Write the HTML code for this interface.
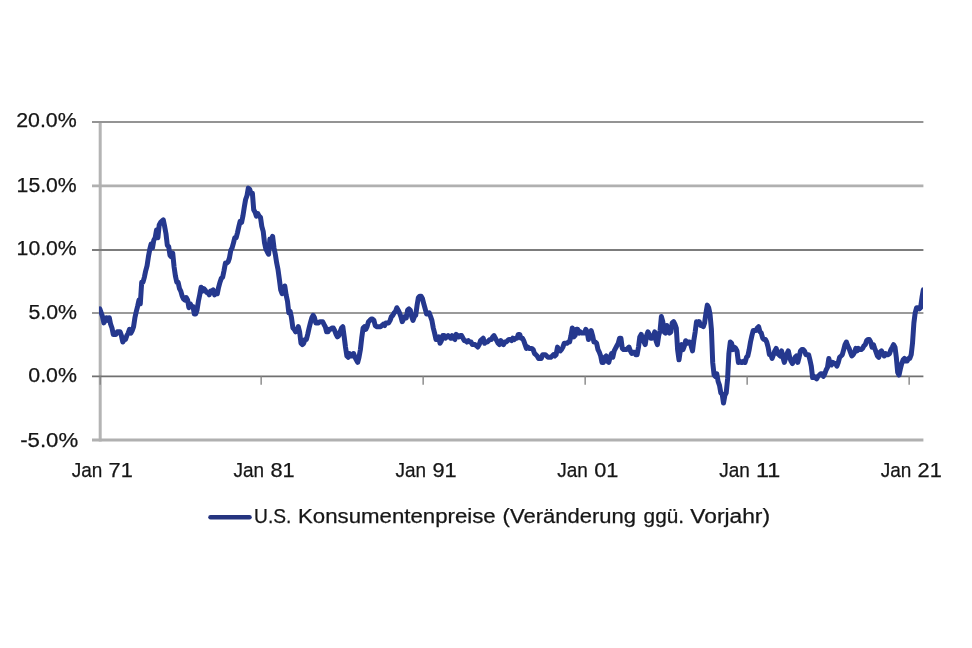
<!DOCTYPE html>
<html lang="de"><head><meta charset="utf-8"><title>U.S. Konsumentenpreise</title>
<style>
html,body{margin:0;padding:0;background:#fff;}
body{width:972px;height:648px;overflow:hidden;font-family:"Liberation Sans",sans-serif;}
svg{display:block;font-family:"Liberation Sans",sans-serif;filter:blur(0.45px);}
</style></head><body>
<svg width="972" height="648" viewBox="0 0 972 648">
<rect width="972" height="648" fill="#fff"/>
<line x1="100.2" x2="100.2" y1="121.2" y2="441.4" stroke="#b4b4b4" stroke-width="3"/>
<line x1="92" x2="923.4" y1="122.0" y2="122.0" stroke="#949494" stroke-width="2.0"/>
<line x1="92" x2="923.4" y1="185.9" y2="185.9" stroke="#b0b0b0" stroke-width="2.6"/>
<line x1="92" x2="923.4" y1="250.0" y2="250.0" stroke="#7c7c7c" stroke-width="1.8"/>
<line x1="92" x2="923.4" y1="312.9" y2="312.9" stroke="#9a9a9a" stroke-width="2.0"/>
<line x1="92" x2="923.4" y1="376.3" y2="376.3" stroke="#707070" stroke-width="1.8"/>
<line x1="92" x2="923.4" y1="440.0" y2="440.0" stroke="#b0b0b0" stroke-width="3.0"/>
<line x1="100.20" x2="100.20" y1="376.3" y2="384.7" stroke="#868686" stroke-width="1.4"/>
<line x1="261.15" x2="261.15" y1="376.3" y2="384.7" stroke="#868686" stroke-width="1.4"/>
<line x1="423.15" x2="423.15" y1="376.3" y2="384.7" stroke="#868686" stroke-width="1.4"/>
<line x1="585.15" x2="585.15" y1="376.3" y2="384.7" stroke="#868686" stroke-width="1.4"/>
<line x1="747.15" x2="747.15" y1="376.3" y2="384.7" stroke="#868686" stroke-width="1.4"/>
<line x1="909.15" x2="909.15" y1="376.3" y2="384.7" stroke="#868686" stroke-width="1.4"/>
<clipPath id="pc"><rect x="99" y="100" width="824" height="360"/></clipPath>
<polyline clip-path="url(#pc)" points="99.8,308.9 101.2,312.8 102.5,316.6 103.9,322.9 105.2,320.4 106.6,317.8 107.9,320.4 109.3,317.8 110.6,324.2 112.0,328.0 113.3,334.4 114.7,334.4 116.0,334.4 117.4,331.8 118.7,331.8 120.1,331.8 121.4,335.6 122.8,342.0 124.1,339.5 125.5,339.5 126.8,335.6 128.2,333.1 129.5,329.3 130.9,333.1 132.2,330.6 133.6,326.7 134.9,317.8 136.3,311.5 137.6,306.4 139.0,300.0 140.3,303.8 141.7,282.2 143.0,282.2 144.4,277.1 145.7,270.8 147.1,265.7 148.4,256.8 149.8,249.2 151.1,244.1 152.5,247.9 153.8,240.2 155.2,237.7 156.5,230.1 157.9,237.7 159.2,225.0 160.6,222.4 161.9,221.2 163.3,219.9 164.6,226.3 166.0,233.9 167.3,245.3 168.7,246.6 170.0,255.5 171.4,256.8 172.7,253.0 174.1,267.0 175.4,275.9 176.8,282.2 178.1,282.2 179.5,288.6 180.8,291.1 182.2,296.2 183.5,298.8 184.9,300.0 186.2,297.5 187.6,300.0 188.9,307.7 190.3,303.8 191.6,306.4 193.0,306.4 194.3,314.0 195.7,314.0 197.0,310.2 198.4,301.3 199.7,294.9 201.1,287.3 202.4,291.1 203.8,288.6 205.1,289.9 206.5,292.4 207.8,292.4 209.2,294.9 210.5,291.1 211.9,291.1 213.2,289.9 214.6,294.9 215.9,292.4 217.3,293.7 218.6,287.3 220.0,282.2 221.3,278.4 222.7,277.1 224.0,270.8 225.4,263.1 226.7,263.1 228.1,261.9 229.4,258.1 230.8,250.4 232.1,247.9 233.5,242.8 234.8,237.7 236.2,237.7 237.5,232.6 238.9,226.3 240.2,221.2 241.6,222.4 242.9,216.1 244.3,207.2 245.6,199.5 247.0,195.7 248.3,188.1 249.7,189.4 251.0,193.2 252.4,193.2 253.7,209.7 255.1,212.3 256.4,216.1 257.8,213.5 259.1,216.1 260.5,217.4 261.8,226.3 263.2,231.3 264.5,242.8 265.9,249.2 267.2,251.7 268.6,254.2 269.9,239.0 271.3,239.0 272.6,236.4 274.0,247.9 275.3,254.2 276.7,263.1 278.0,269.5 279.4,279.7 280.7,289.9 282.1,293.7 283.4,291.1 284.8,286.0 286.1,294.9 287.5,301.3 288.8,312.8 290.2,311.5 291.5,317.8 292.9,328.0 294.2,329.3 295.6,331.8 296.9,330.6 298.3,326.7 299.6,331.8 301.0,343.3 302.3,344.6 303.7,343.3 305.0,339.5 306.4,339.5 307.7,334.4 309.1,328.0 310.4,322.9 311.8,317.8 313.1,315.3 314.5,317.8 315.8,322.9 317.2,322.9 318.5,322.9 319.9,321.7 321.2,321.7 322.6,321.7 323.9,324.2 325.3,326.7 326.6,331.8 328.0,331.8 329.3,329.3 330.7,329.3 332.0,328.0 333.4,328.0 334.7,330.6 336.1,334.4 337.4,336.9 338.8,335.6 340.1,331.8 341.5,328.0 342.8,326.7 344.2,336.9 345.5,347.1 346.9,356.0 348.2,357.3 349.6,353.5 350.9,356.0 352.3,356.0 353.6,353.5 355.0,357.3 356.3,359.8 357.7,362.4 359.0,357.3 360.4,349.6 361.7,338.2 363.1,328.0 364.4,326.7 365.8,329.3 367.1,326.7 368.5,321.7 369.8,320.4 371.2,319.1 372.5,319.1 373.9,320.4 375.2,325.5 376.6,326.7 377.9,326.7 379.3,326.7 380.6,326.7 382.0,325.5 383.3,324.2 384.7,325.5 386.0,322.9 387.4,322.9 388.7,322.9 390.1,320.4 391.4,316.6 392.8,315.3 394.1,312.8 395.5,311.5 396.8,307.7 398.2,310.2 399.5,312.8 400.9,316.6 402.2,321.7 403.6,319.1 404.9,316.6 406.3,317.8 407.6,310.2 409.0,308.9 410.3,310.2 411.7,316.6 413.0,320.4 414.4,316.6 415.7,315.3 417.1,305.1 418.4,297.5 419.8,296.2 421.1,296.2 422.5,298.8 423.8,303.8 425.2,308.9 426.5,314.0 427.9,314.0 429.2,312.8 430.6,316.6 431.9,320.4 433.3,328.0 434.6,333.1 436.0,339.5 437.3,338.2 438.7,336.9 440.0,343.3 441.4,340.7 442.7,335.6 444.1,335.6 445.4,338.2 446.8,336.9 448.1,335.6 449.5,336.9 450.8,338.2 452.2,335.6 453.5,338.2 454.9,339.5 456.2,334.4 457.6,335.6 458.9,336.9 460.3,335.6 461.6,335.6 463.0,338.2 464.3,340.7 465.7,340.7 467.0,342.0 468.4,340.7 469.7,342.0 471.1,342.0 472.4,344.6 473.8,344.6 475.1,344.6 476.5,345.8 477.8,347.1 479.2,344.6 480.5,340.7 481.9,339.5 483.2,338.2 484.6,343.3 485.9,342.0 487.3,342.0 488.6,340.7 490.0,339.5 491.3,339.5 492.7,336.9 494.0,335.6 495.4,338.2 496.7,340.7 498.1,343.3 499.4,344.6 500.8,340.7 502.1,343.3 503.5,344.6 504.8,342.0 506.2,342.0 507.5,340.7 508.9,339.5 510.2,339.5 511.6,340.7 512.9,338.2 514.3,339.5 515.6,338.2 517.0,338.2 518.3,334.4 519.7,334.4 521.0,338.2 522.4,338.2 523.7,340.7 525.1,344.6 526.4,348.4 527.8,347.1 529.1,348.4 530.5,348.4 531.8,348.4 533.2,349.6 534.5,353.5 535.9,354.7 537.2,356.0 538.6,358.5 539.9,358.5 541.3,358.5 542.6,354.7 544.0,354.7 545.3,354.7 546.7,356.0 548.0,357.3 549.4,357.3 550.7,357.3 552.1,356.0 553.4,354.7 554.8,356.0 556.1,354.7 557.5,347.1 558.8,349.6 560.2,350.9 561.5,349.6 562.9,347.1 564.2,343.3 565.6,343.3 566.9,343.3 568.3,342.0 569.6,342.0 571.0,335.6 572.3,328.0 573.7,336.9 575.0,335.6 576.4,329.3 577.7,329.3 579.1,333.1 580.4,331.8 581.8,333.1 583.1,333.1 584.5,333.1 585.8,329.3 587.2,331.8 588.5,339.5 589.9,334.4 591.2,330.6 592.6,335.6 593.9,342.0 595.3,342.0 596.6,343.3 598.0,349.6 599.3,352.2 600.7,356.0 602.0,362.4 603.4,362.4 604.7,357.3 606.1,356.0 607.4,361.1 608.8,362.4 610.1,357.3 611.5,353.5 612.8,357.3 614.2,350.9 615.5,348.4 616.9,345.8 618.2,343.3 619.6,338.2 620.9,338.2 622.3,348.4 623.6,349.6 625.0,349.6 626.3,349.6 627.7,348.4 629.0,347.1 630.4,350.9 631.7,353.5 633.1,352.2 634.4,352.2 635.8,354.7 637.1,354.7 638.5,347.1 639.8,336.9 641.2,334.4 642.5,338.2 643.9,342.0 645.2,344.6 646.6,335.6 647.9,331.8 649.3,334.4 650.6,338.2 652.0,338.2 653.3,336.9 654.7,331.8 656.0,340.7 657.4,344.6 658.7,335.6 660.1,330.6 661.4,316.6 662.8,321.7 664.1,331.8 665.5,333.1 666.8,325.5 668.2,330.6 669.5,333.1 670.9,331.8 672.2,322.9 673.6,321.7 674.9,324.2 676.3,328.0 677.6,349.6 679.0,359.8 680.3,350.9 681.7,344.6 683.0,349.6 684.4,345.8 685.7,340.7 687.1,343.3 688.4,342.0 689.8,342.0 691.1,345.8 692.5,350.9 693.8,340.7 695.2,331.8 696.5,321.7 697.9,324.2 699.2,321.7 700.6,325.5 701.9,325.5 703.3,326.7 704.6,322.9 706.0,312.8 707.3,305.1 708.7,307.7 710.0,314.0 711.4,329.3 712.7,362.4 714.1,375.1 715.4,376.4 716.8,373.8 718.1,381.4 719.5,385.3 720.8,392.9 722.2,394.2 723.5,403.1 724.9,395.4 726.2,392.9 727.6,378.9 728.9,353.5 730.3,342.0 731.6,343.3 733.0,349.6 734.3,347.1 735.7,348.4 737.0,350.9 738.4,362.4 739.7,361.1 741.1,362.4 742.4,362.4 743.8,361.1 745.1,362.4 746.5,357.3 747.8,356.0 749.2,349.6 750.5,342.0 751.9,335.6 753.2,330.6 754.6,330.6 755.9,330.6 757.3,328.0 758.6,326.7 760.0,331.8 761.3,333.1 762.7,338.2 764.0,339.5 765.4,339.5 766.7,342.0 768.1,347.1 769.4,354.7 770.8,354.7 772.1,358.5 773.5,354.7 774.8,350.9 776.2,348.4 777.5,353.5 778.9,354.7 780.2,356.0 781.6,350.9 782.9,357.3 784.3,362.4 785.6,358.5 787.0,353.5 788.3,350.9 789.7,357.3 791.0,361.1 792.4,363.6 793.7,361.1 795.1,357.3 796.4,356.0 797.8,362.4 799.1,357.3 800.5,350.9 801.8,349.6 803.2,349.6 804.5,350.9 805.9,354.7 807.2,354.7 808.6,354.7 809.9,359.8 811.3,366.2 812.6,377.6 814.0,376.4 815.3,377.6 816.7,378.9 818.0,376.4 819.4,375.1 820.7,373.8 822.1,373.8 823.4,376.4 824.8,373.8 826.1,370.0 827.5,367.4 828.8,358.5 830.2,363.6 831.5,364.9 832.9,362.4 834.2,363.6 835.6,363.6 836.9,366.2 838.3,362.4 839.6,357.3 841.0,356.0 842.3,354.7 843.7,349.6 845.0,344.6 846.4,342.0 847.7,345.8 849.1,348.4 850.4,352.2 851.8,356.0 853.1,354.7 854.5,352.2 855.8,348.4 857.2,350.9 858.5,348.4 859.9,349.6 861.2,349.6 862.6,348.4 863.9,345.8 865.3,344.6 866.6,340.7 868.0,339.5 869.3,339.5 870.7,342.0 872.0,347.1 873.4,344.6 874.7,348.4 876.1,352.2 877.4,356.0 878.8,357.3 880.1,352.2 881.5,350.9 882.8,353.5 884.2,356.0 885.5,353.5 886.9,354.7 888.2,354.7 889.6,353.5 890.9,349.6 892.3,347.1 893.6,344.6 895.0,347.1 896.3,357.3 897.7,372.5 899.0,375.1 900.4,368.7 901.7,363.6 903.1,359.8 904.4,358.5 905.8,361.1 907.1,361.1 908.5,358.5 909.8,358.5 911.2,354.7 912.5,343.3 913.9,322.9 915.2,312.8 916.6,307.7 917.9,307.7 919.3,308.9 920.6,307.7 922.0,297.5 923.3,289.9" fill="none" stroke="#25388e" stroke-width="5.0" stroke-linejoin="round" stroke-linecap="round"/>
<text id="y20" x="76.7" y="127.4" text-anchor="end" font-size="20.5" fill="#161616" stroke="#161616" stroke-width="0.25" textLength="60.5" lengthAdjust="spacingAndGlyphs">20.0%</text>
<text id="y15" x="76.7" y="191.9" text-anchor="end" font-size="20.5" fill="#161616" stroke="#161616" stroke-width="0.25" textLength="60.1" lengthAdjust="spacingAndGlyphs">15.0%</text>
<text id="y10" x="76.7" y="255.4" text-anchor="end" font-size="20.5" fill="#161616" stroke="#161616" stroke-width="0.25" textLength="60.1" lengthAdjust="spacingAndGlyphs">10.0%</text>
<text id="y5" x="76.9" y="318.6" text-anchor="end" font-size="20.5" fill="#161616" stroke="#161616" stroke-width="0.25" textLength="48.5" lengthAdjust="spacingAndGlyphs">5.0%</text>
<text id="y0" x="76.9" y="381.6" text-anchor="end" font-size="20.5" fill="#161616" stroke="#161616" stroke-width="0.25" textLength="48.6" lengthAdjust="spacingAndGlyphs">0.0%</text>
<text id="y-5" x="78.2" y="446.5" text-anchor="end" font-size="20.5" fill="#161616" stroke="#161616" stroke-width="0.25" textLength="58.0" lengthAdjust="spacingAndGlyphs">-5.0%</text>
<text id="x0" y="477.1" font-size="20.5" fill="#161616" stroke="#161616" stroke-width="0.25"><tspan x="71.7" textLength="30.6" lengthAdjust="spacingAndGlyphs">Jan</tspan> <tspan x="108.6" textLength="24.2" lengthAdjust="spacingAndGlyphs">71</tspan></text>
<text id="x1" y="477.1" font-size="20.5" fill="#161616" stroke="#161616" stroke-width="0.25"><tspan x="233.5" textLength="30.6" lengthAdjust="spacingAndGlyphs">Jan</tspan> <tspan x="270.4" textLength="24.2" lengthAdjust="spacingAndGlyphs">81</tspan></text>
<text id="x2" y="477.1" font-size="20.5" fill="#161616" stroke="#161616" stroke-width="0.25"><tspan x="395.5" textLength="30.6" lengthAdjust="spacingAndGlyphs">Jan</tspan> <tspan x="432.4" textLength="24.2" lengthAdjust="spacingAndGlyphs">91</tspan></text>
<text id="x3" y="477.1" font-size="20.5" fill="#161616" stroke="#161616" stroke-width="0.25"><tspan x="557.3" textLength="30.6" lengthAdjust="spacingAndGlyphs">Jan</tspan> <tspan x="594.2" textLength="24.2" lengthAdjust="spacingAndGlyphs">01</tspan></text>
<text id="x4" y="477.1" font-size="20.5" fill="#161616" stroke="#161616" stroke-width="0.25"><tspan x="719.2" textLength="30.6" lengthAdjust="spacingAndGlyphs">Jan</tspan> <tspan x="756.1" textLength="24.2" lengthAdjust="spacingAndGlyphs">11</tspan></text>
<text id="x5" y="477.1" font-size="20.5" fill="#161616" stroke="#161616" stroke-width="0.25"><tspan x="880.7" textLength="30.6" lengthAdjust="spacingAndGlyphs">Jan</tspan> <tspan x="917.6" textLength="24.2" lengthAdjust="spacingAndGlyphs">21</tspan></text>
<line x1="210.5" x2="249.5" y1="517.3" y2="517.3" stroke="#25347f" stroke-width="4.5" stroke-linecap="round"/>
<text id="leg" y="522.5" font-size="19.6" fill="#161616" stroke="#161616" stroke-width="0.25"><tspan id="w0" x="254.1" textLength="37.3" lengthAdjust="spacingAndGlyphs">U.S.</tspan> <tspan id="w1" x="298.0" textLength="197.7" lengthAdjust="spacingAndGlyphs">Konsumentenpreise</tspan> <tspan id="w2" x="502.6" textLength="133.4" lengthAdjust="spacingAndGlyphs">(Veränderung</tspan> <tspan id="w3" x="643.6" textLength="40.5" lengthAdjust="spacingAndGlyphs">ggü.</tspan> <tspan id="w4" x="690.3" textLength="79.7" lengthAdjust="spacingAndGlyphs">Vorjahr)</tspan></text>
</svg>
</body></html>
